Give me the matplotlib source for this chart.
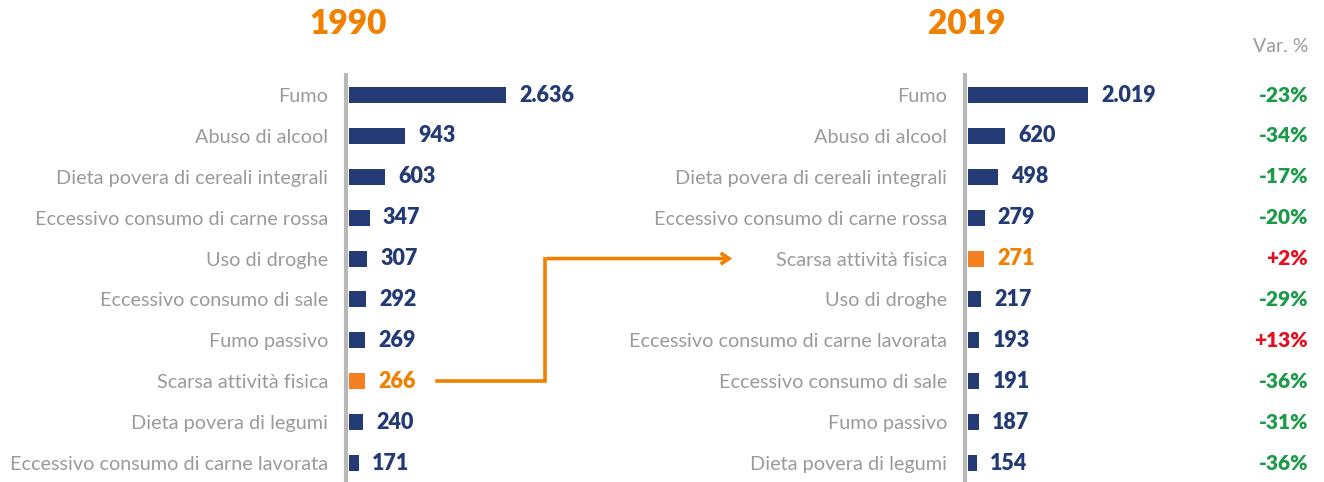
import matplotlib
matplotlib.use("Agg")
import matplotlib.pyplot as plt
import matplotlib.transforms as mtransforms
from matplotlib.lines import Line2D

# ---- data ----
cats_1990 = ["Fumo", "Abuso di alcool", "Dieta povera di cereali integrali",
             "Eccessivo consumo di carne rossa", "Uso di droghe",
             "Eccessivo consumo di sale", "Fumo passivo", "Scarsa attività fisica",
             "Dieta povera di legumi", "Eccessivo consumo di carne lavorata"]
vals_1990 = [2636, 943, 603, 347, 307, 292, 269, 266, 240, 171]
labels_1990 = ["2.636", "943", "603", "347", "307", "292", "269", "266", "240", "171"]

cats_2019 = ["Fumo", "Abuso di alcool", "Dieta povera di cereali integrali",
             "Eccessivo consumo di carne rossa", "Scarsa attività fisica",
             "Uso di droghe", "Eccessivo consumo di carne lavorata",
             "Eccessivo consumo di sale", "Fumo passivo", "Dieta povera di legumi"]
vals_2019 = [2019, 620, 498, 279, 271, 217, 193, 191, 187, 154]
labels_2019 = ["2.019", "620", "498", "279", "271", "217", "193", "191", "187", "154"]
var_pct = ["-23%", "-34%", "-17%", "-20%", "+2%", "-29%", "+13%", "-36%", "-31%", "-36%"]

highlight = "Scarsa attività fisica"

NAVY = "#233a75"
ORANGE_BAR = "#f47f20"
ORANGE = "#f08000"
GRAY_TXT = "#9a9a9a"
AXIS_GRAY = "#b8b8b8"
GREEN = "#1b9a48"
RED = "#e3101f"

plt.rcParams['font.family'] = ['Lato', 'DejaVu Sans']

W, H = 1324, 482
fig = plt.figure(figsize=(W / 100, H / 100), dpi=100)

PX_PER_UNIT = 0.0595
AX_W = 260  # px
top_px, bot_px = 75, 482
row0_px, row9_px = 95, 463
sp = (row9_px - row0_px) / 9
ylim_top = -(row0_px - top_px) / sp
ylim_bot = 9 + (bot_px - row9_px) / sp


def make_panel(x0_px, cats, vals, labels, title):
    ax = fig.add_axes([x0_px / W, (H - bot_px) / H, AX_W / W, (bot_px - top_px) / H])
    ax.set_xlim(0, AX_W / PX_PER_UNIT)
    ax.set_ylim(ylim_bot, ylim_top)
    ypos = list(range(len(cats)))
    colors = [ORANGE_BAR if c == highlight else NAVY for c in cats]
    ax.barh(ypos, vals, height=16 / sp, color=colors, left=0)
    for s in ["top", "right", "bottom"]:
        ax.spines[s].set_visible(False)
    ax.spines["left"].set_color(AXIS_GRAY)
    ax.spines["left"].set_linewidth(3)
    ax.spines["left"].set_position(("outward", 2))
    ax.set_xticks([])
    ax.set_yticks(ypos)
    ax.set_yticklabels(cats, fontsize=14.35, color=GRAY_TXT)
    ax.tick_params(axis="y", length=0, pad=13)
    for y, v, lab, c in zip(ypos, vals, labels, cats):
        col = ORANGE if c == highlight else NAVY
        ax.annotate(lab, (v, y), xytext=(9.5, 0), textcoords="offset points",
                    ha="left", va="center", fontsize=15.5, fontweight="heavy", color=col)
    fig.text((x0_px - 1) / W, 1 - 24 / H, title, ha="center", va="center",
             fontsize=24, fontweight="heavy", color=ORANGE)
    return ax


ax1 = make_panel(349, cats_1990, vals_1990, labels_1990, "1990")
ax2 = make_panel(968, cats_2019, vals_2019, labels_2019, "2019")

# Var % column
pct_x = 1308 / W
fig.text(pct_x, 1 - 46 / H, "Var. %", ha="right", va="center", fontsize=14, color=GRAY_TXT)
trans2 = mtransforms.blended_transform_factory(fig.transFigure, ax2.transData)
for y, p in enumerate(var_pct):
    col = RED if p.startswith("+") else GREEN
    ax2.text(pct_x, y, p, transform=trans2, ha="right", va="center",
             fontsize=15, fontweight="heavy", color=col)

# connector arrow
y_start = cats_1990.index(highlight)
y_end = cats_2019.index(highlight)
x_a, x_b, x_c = 437 / W, 545 / W, 735 / W
ya = fig.transFigure.inverted().transform(ax1.transData.transform((0, y_start)))[1]
yb = fig.transFigure.inverted().transform(ax2.transData.transform((0, y_end)))[1]
fig.add_artist(Line2D([x_a, x_b, x_b], [ya, ya, yb], color=ORANGE, lw=2.6,
                      transform=fig.transFigure, solid_joinstyle="miter"))
fig.add_artist(matplotlib.patches.FancyArrowPatch(
    (x_b - 0.0008, yb), (x_c, yb), transform=fig.transFigure,
    arrowstyle="->,head_length=6,head_width=4", color=ORANGE, lw=2.6,
    mutation_scale=1, joinstyle="miter", capstyle="butt"))

fig.savefig("out.png", dpi=100)
